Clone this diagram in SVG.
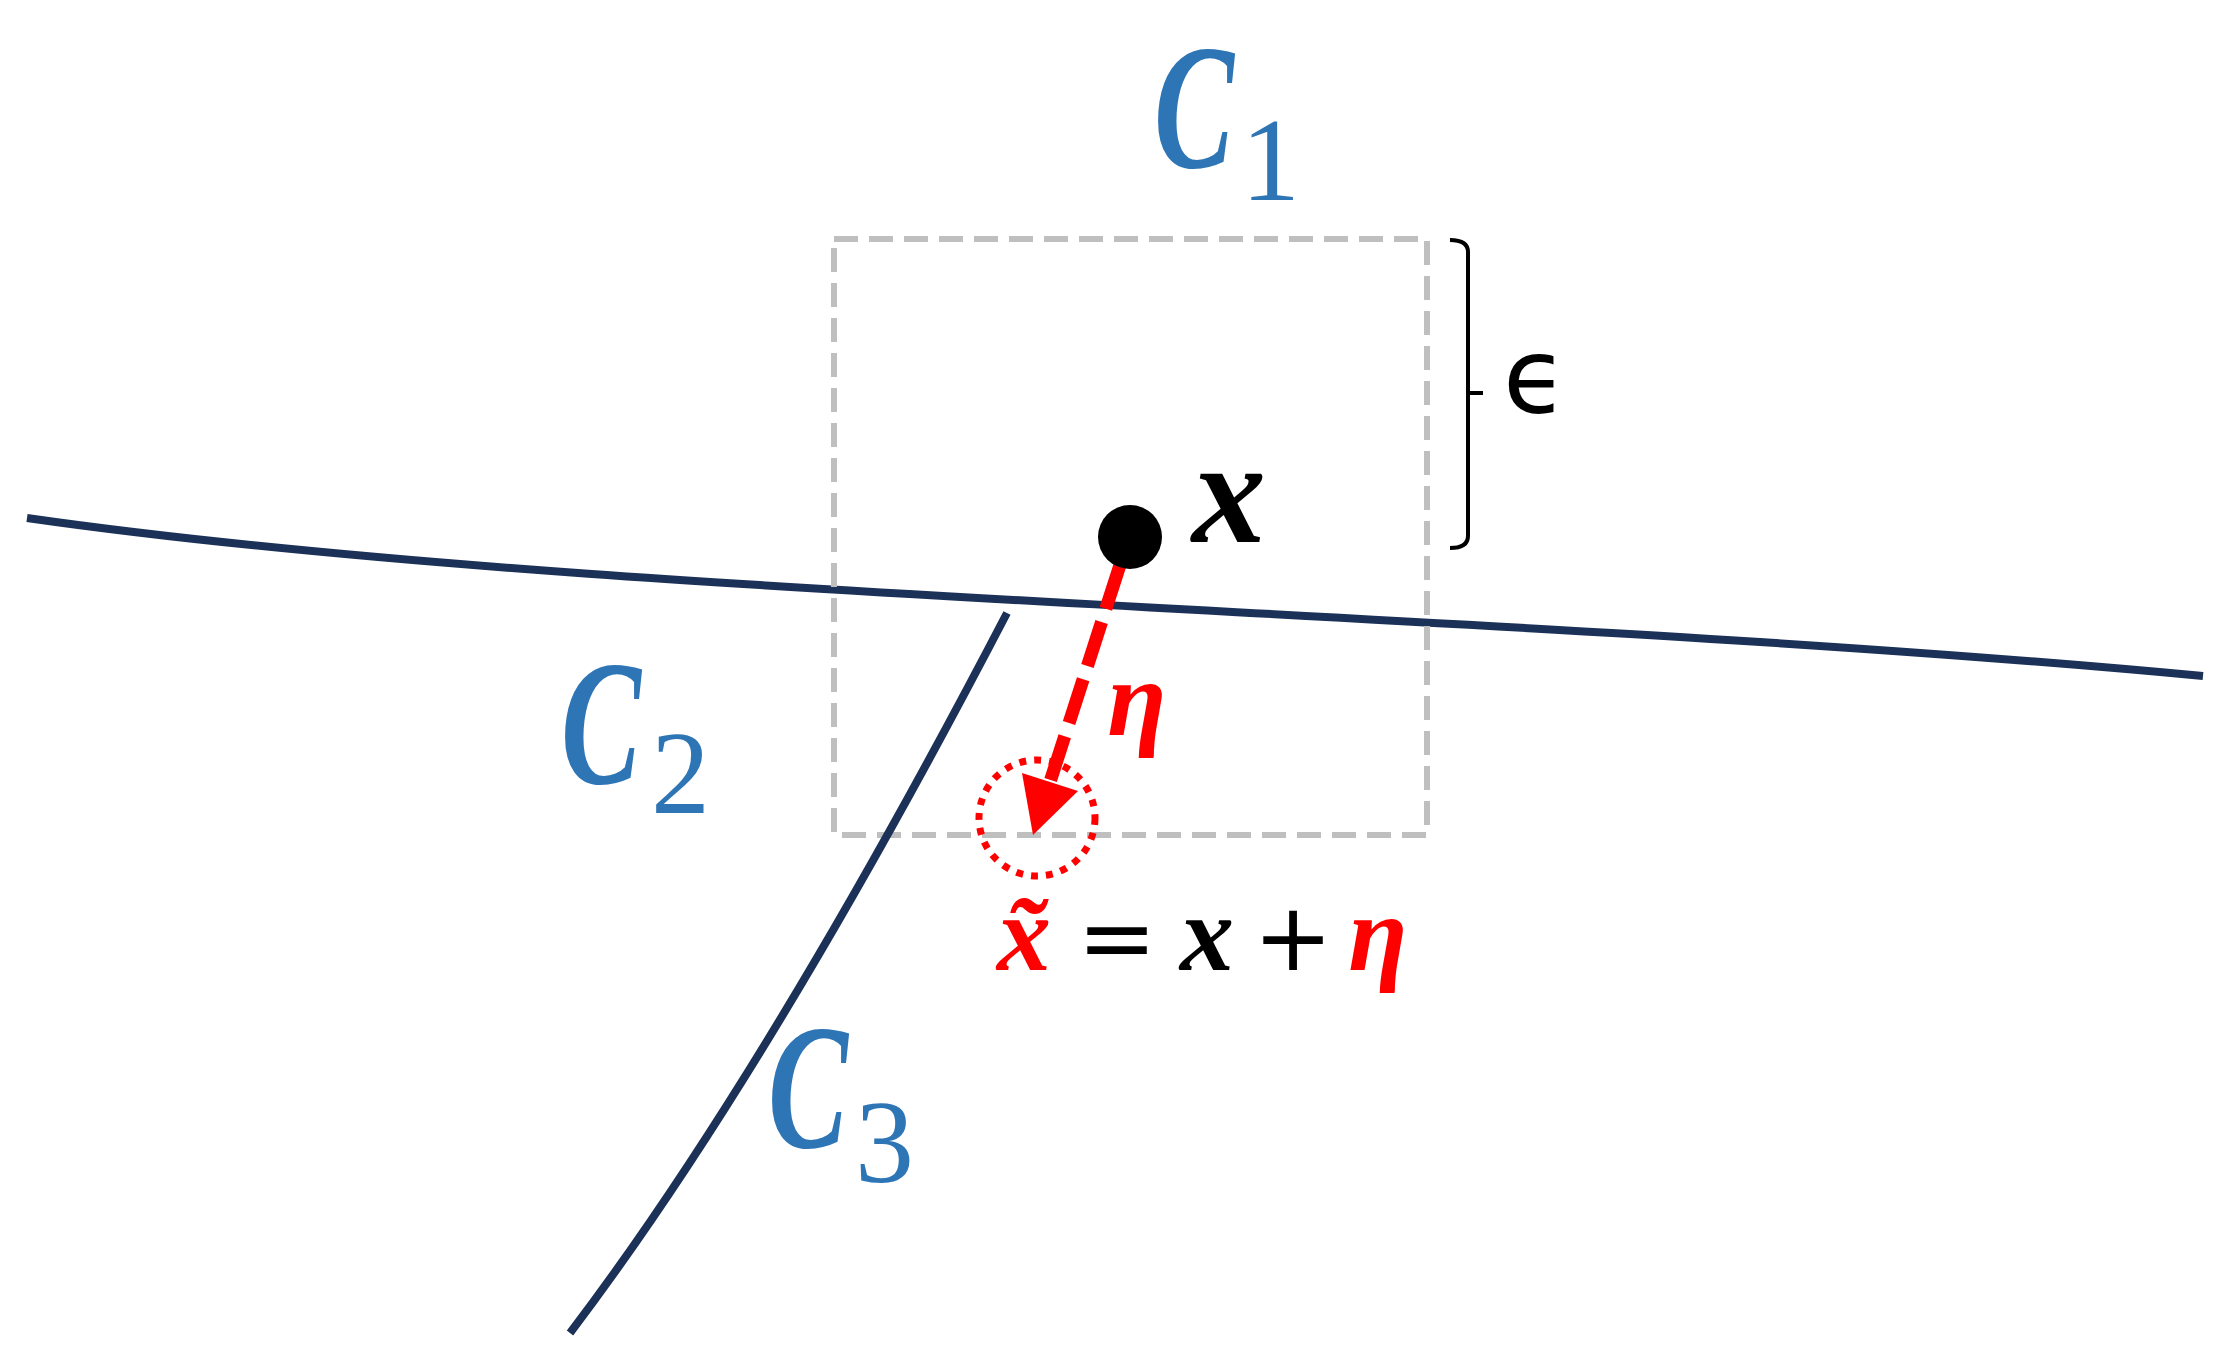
<svg xmlns="http://www.w3.org/2000/svg" width="2235" height="1368" viewBox="0 0 2235 1368">
<style>
.curve{fill:none;stroke:#1c3158;stroke-width:8}
.clab{font-family:"Liberation Serif",serif;fill:#2e75b6}
.cc{font-style:italic;font-weight:bold;font-size:178px}
.sub{font-style:normal;font-weight:normal;font-size:118px}
.math{font-family:"Liberation Serif",serif;font-style:italic;font-weight:bold}
.op{font-family:"DejaVu Sans",sans-serif;font-size:95px;fill:#000}
.red{fill:#ff0000}
.blk{fill:#000}
</style>
<rect width="2235" height="1368" fill="#fff"/>
<g id="connectors">
<path id="curve-c1c2" class="curve" d="M27,518 C600,600 1500,610 2203,676"/>
<rect id="eps-box" x="834" y="239" width="593" height="596" fill="none" stroke="#bfbfbf" stroke-width="6" stroke-dasharray="24 11"/>
<path id="curve-c2c3" class="curve" stroke-width="7" d="M1007,613 Q768,1072 570,1333"/>
<path id="eps-bracket" d="M1450,240 Q1468,240 1468,252 V536 Q1468,548 1450,548 M1468,393 H1483" fill="none" stroke="#000" stroke-width="4"/>
<path id="perturb" d="M1120,565 L1050,782" fill="none" stroke="#ff0000" stroke-width="13" stroke-dasharray="46 14"/>
<path d="M1033,835 L1022,773 L1078,791 Z" fill="#ff0000"/>
<circle id="ball" cx="1037" cy="818" r="58" fill="none" stroke="#ff0000" stroke-width="7" stroke-dasharray="7 8"/>
</g>
<g id="node-x">
<circle cx="1130" cy="537" r="32" fill="#000"/>
<text class="math blk" x="1192" y="542" font-size="148">x</text>
</g>
<g id="label-c1">
<text class="clab"><tspan class="cc" x="1154" y="167" textLength="80" lengthAdjust="spacingAndGlyphs">C</tspan><tspan class="sub" x="1241" y="200">1</tspan></text>
</g>
<g id="label-c2">
<text class="clab"><tspan class="cc" x="561" y="783" textLength="80" lengthAdjust="spacingAndGlyphs">C</tspan><tspan class="sub" x="651" y="813">2</tspan></text>
</g>
<g id="label-c3">
<text class="clab"><tspan class="cc" x="768" y="1147" textLength="80" lengthAdjust="spacingAndGlyphs">C</tspan><tspan class="sub" x="855" y="1182">3</tspan></text>
</g>
<g id="label-eps">
<text x="1503" y="413" font-family="DejaVu Sans,sans-serif" font-size="105" fill="#000">ϵ</text>
</g>
<g id="label-eta">
<text class="math red" x="1137" y="735" font-size="108" text-anchor="middle">η</text>
</g>
<g id="equation">
<text class="math red" x="1024" y="970" font-size="108" text-anchor="middle">x̃</text>
<text class="op" x="1117" y="970" text-anchor="middle">=</text>
<text class="math blk" x="1207" y="970" font-size="108" text-anchor="middle">x</text>
<text class="op" x="1293" y="970" text-anchor="middle">+</text>
<text class="math red" x="1378" y="970" font-size="108" text-anchor="middle">η</text>
</g>
</svg>
